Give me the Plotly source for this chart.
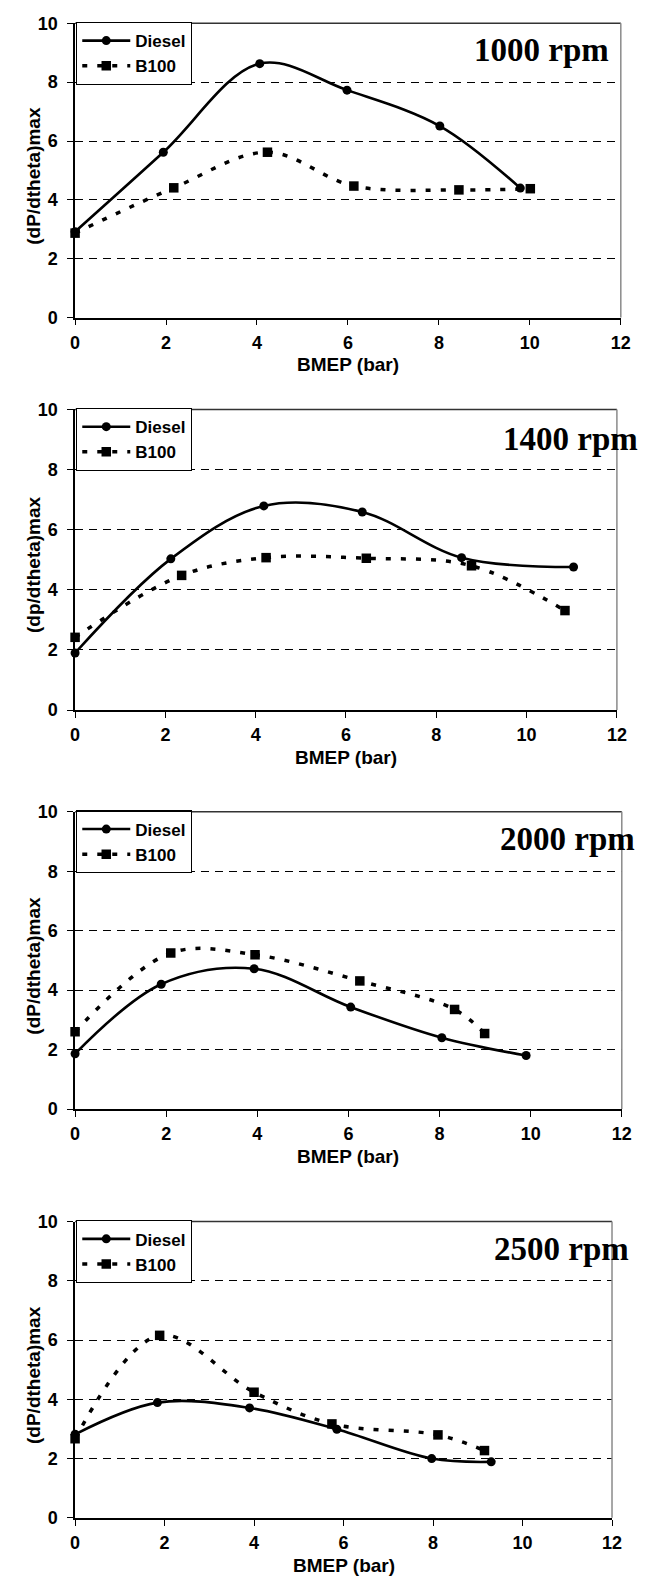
import plotly.graph_objects as go

# ---- data: BMEP (bar) vs (dP/dtheta)max for each engine speed ----
speeds = ["1000 rpm", "1400 rpm", "2000 rpm", "2500 rpm"]
y_titles = ["(dP/dtheta)max", "(dp/dtheta)max", "(dP/dtheta)max", "(dP/dtheta)max"]

bmep_diesel_1000 = [0, 1.94, 4.06, 5.98, 8.02, 9.79]
dpdt_diesel_1000 = [2.92, 5.62, 8.63, 7.73, 6.51, 4.40]
bmep_b100_1000 = [0, 2.17, 4.23, 6.13, 8.44, 10.01]
dpdt_b100_1000 = [2.87, 4.41, 5.62, 4.47, 4.34, 4.38]

bmep_diesel_1400 = [0, 2.12, 4.18, 6.36, 8.56, 11.04]
dpdt_diesel_1400 = [1.90, 5.03, 6.79, 6.59, 5.07, 4.76]
bmep_b100_1400 = [0, 2.36, 4.23, 6.45, 8.78, 10.85]
dpdt_b100_1400 = [2.42, 4.48, 5.07, 5.05, 4.80, 3.31]

bmep_diesel_2000 = [0, 1.89, 3.93, 6.05, 8.05, 9.90]
dpdt_diesel_2000 = [1.86, 4.20, 4.72, 3.43, 2.40, 1.80]
bmep_b100_2000 = [0, 2.10, 3.95, 6.25, 8.33, 8.99]
dpdt_b100_2000 = [2.60, 5.25, 5.19, 4.31, 3.35, 2.54]

bmep_diesel_2500 = [0, 1.84, 3.90, 5.85, 7.97, 9.30]
dpdt_diesel_2500 = [2.82, 3.89, 3.71, 2.99, 2.00, 1.89]
bmep_b100_2500 = [0, 1.89, 4.00, 5.74, 8.11, 9.15]
dpdt_b100_2500 = [2.67, 6.16, 4.24, 3.17, 2.80, 2.27]

diesel_x = [bmep_diesel_1000, bmep_diesel_1400, bmep_diesel_2000, bmep_diesel_2500]
diesel_y = [dpdt_diesel_1000, dpdt_diesel_1400, dpdt_diesel_2000, dpdt_diesel_2500]
b100_x = [bmep_b100_1000, bmep_b100_1400, bmep_b100_2000, bmep_b100_2500]
b100_y = [dpdt_b100_1000, dpdt_b100_1400, dpdt_b100_2000, dpdt_b100_2500]

x_ticks = [0, 2, 4, 6, 8, 10, 12]
y_ticks = [0, 2, 4, 6, 8, 10]

# ---- page geometry (pixels) ----
W, H = 666, 1593
# left, right, top, bottom of each plot area
panels = [
    (71.7, 630, 13.5, 311.5),
    (71.7, 626, 404.5, 709),
    (71.7, 631, 812, 1113),
    (71.7, 621, 1227, 1527),
]
label_right = [620, 650, 647, 640]
label_mid = [41, 434, 840, 1255]

SANS = "Liberation Sans, Arial, sans-serif"
SERIF = "Liberation Serif, Times New Roman, serif"

fig = go.Figure()
layout = dict(
    width=W, height=H,
    margin=dict(l=0, r=0, t=0, b=0),
    paper_bgcolor="white", plot_bgcolor="white",
    font=dict(family=SANS, color="black", weight="bold"),
    annotations=[], shapes=[],
)

def px(v):
    return v / W

def py(v):
    return 1 - v / H

for i in range(4):
    l, r, t, b = panels[i]
    sfx = "" if i == 0 else str(i + 1)
    xa, ya = "x" + sfx, "y" + sfx
    leg = "legend" + sfx

    fig.add_trace(go.Scatter(
        x=diesel_x[i], y=diesel_y[i], name="Diesel", xaxis=xa, yaxis=ya,
        mode="lines+markers", line=dict(color="black", width=2.6, shape="spline", smoothing=1),
        marker=dict(symbol="circle", size=9, color="black"),
        cliponaxis=False, legend=leg,
    ))
    fig.add_trace(go.Scatter(
        x=b100_x[i], y=b100_y[i], name="B100", xaxis=xa, yaxis=ya,
        mode="lines+markers",
        line=dict(color="black", width=3.5, dash="5px,10px", shape="spline", smoothing=1),
        marker=dict(symbol="square", size=9.5, color="black"),
        cliponaxis=False, legend=leg,
    ))

    layout["xaxis" + sfx] = dict(
        domain=[px(l), px(r)], anchor=ya, range=[0, 12], tickvals=x_ticks,
        showgrid=False, zeroline=False, showline=True, linecolor="black", linewidth=1.5,
        ticks="outside", ticklen=6, tickwidth=1.3, tickcolor="black",
        tickfont=dict(size=18, family=SANS, weight="bold"), ticklabelstandoff=2,
        fixedrange=True,
    )
    layout["yaxis" + sfx] = dict(
        domain=[py(b), py(t)], anchor=xa, range=[0, 10], tickvals=y_ticks,
        showgrid=True, gridcolor="black", gridwidth=1.3, griddash="8px,6px",
        zeroline=False, showline=True, linecolor="black", linewidth=1.5,
        ticks="outside", ticklen=6, tickwidth=1.3, tickcolor="black",
        tickfont=dict(size=18, family=SANS, weight="bold"), ticklabelstandoff=6,
        fixedrange=True,
    )
    layout[leg] = dict(
        x=px(l + 1), y=py(t - 1.5), xanchor="left", yanchor="top",
        bgcolor="white", bordercolor="black", borderwidth=1.2,
        font=dict(size=17, family=SANS, weight="bold"),
        tracegroupgap=0, itemwidth=48,
    )
    # top and right frame of the plot area
    layout["shapes"].append(dict(type="line", xref=xa + " domain", yref=ya + " domain",
                                 x0=0, x1=1, y0=1, y1=1, line=dict(color="#333333", width=1.5)))
    layout["shapes"].append(dict(type="line", xref=xa + " domain", yref=ya + " domain",
                                 x0=1, x1=1, y0=0, y1=1, line=dict(color="#8a8a8a", width=1.5)))
    # engine speed label
    layout["annotations"].append(dict(
        text=speeds[i], xref="paper", yref="paper", x=px(label_right[i]), y=py(label_mid[i]),
        xanchor="right", yanchor="middle", showarrow=False,
        font=dict(family=SERIF, size=33, weight="bold", color="black"),
    ))
    # axis titles
    layout["annotations"].append(dict(
        text="BMEP (bar)", xref="paper", yref="paper", x=px((l + r) / 2), y=py(b + 48),
        xanchor="center", yanchor="middle", showarrow=False,
        font=dict(family=SANS, size=19, weight="bold", color="black"),
    ))
    layout["annotations"].append(dict(
        text=y_titles[i], xref="paper", yref="paper", x=px(29), y=py((t + b) / 2 + 5),
        xanchor="center", yanchor="middle", showarrow=False, textangle=-90,
        font=dict(family=SANS, size=19, weight="bold", color="black"),
    ))

fig.update_layout(**layout)
fig.write_html("out.html")
